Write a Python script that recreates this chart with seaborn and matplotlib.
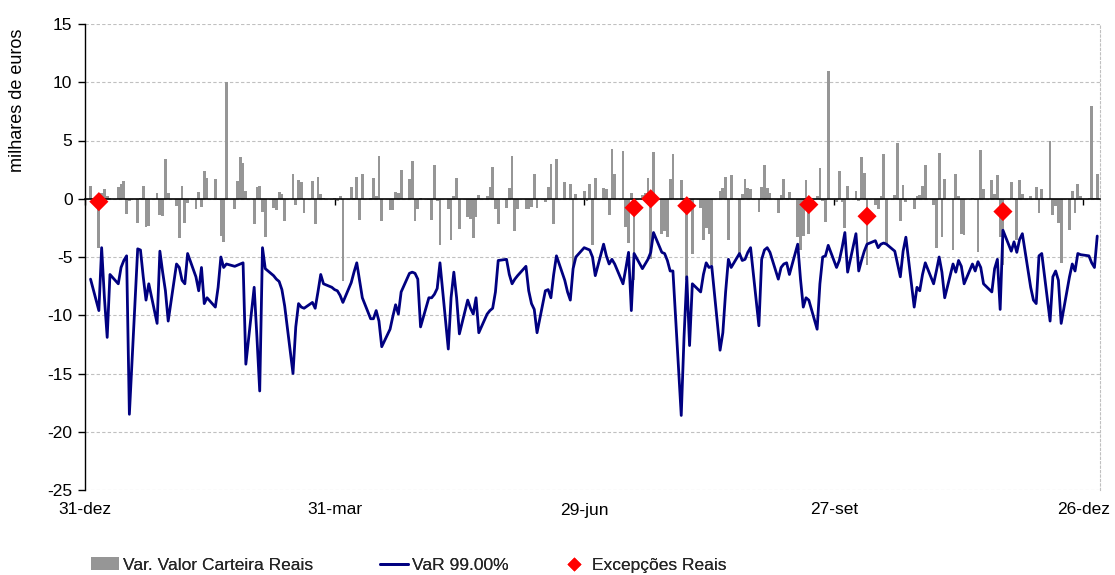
import numpy as np
import pandas as pd
import matplotlib
matplotlib.use("Agg")
import matplotlib.pyplot as plt
import matplotlib.dates as mdates
from matplotlib.patches import Patch
from matplotlib.lines import Line2D
import seaborn as sns

sns.set_theme(style="white")
plt.rcParams["font.family"] = ["Liberation Sans", "DejaVu Sans"]

# ---------------- data ----------------
dates = pd.bdate_range("2009-01-02", "2009-12-31")

pnl_q1a = [1.1, -4.2, 0.5, 0.8, 0.2, 0.1, 1.0, 1.3, 1.5, -1.3, -0.2, -2.1, 0.1, 1.1, -2.4, -2.3,
           0.5, -1.4, -1.5, 3.4, 0.5, -0.6, -3.4, 1.1, -2.1, -0.4, -0.9, 0.6, -0.7, 2.4, 1.8, 1.7,
           -0.1, -3.2, -3.7, 10.0]
pnl_q1b = [-0.9, 1.5, 3.6, 3.1, 0.7, -2.2, 1.0, 1.1, -1.1, -3.3, -0.8, -1.0, 0.6, 0.4, -1.9, 2.1,
           -0.5, 1.6, 1.4, -1.2, 1.5, -2.2, 1.9, 0.4, 0.05, -0.05, 0.1, -0.2, 0.2, -7.1, 1.0, 0.1,
           1.9, -1.8, 2.1, 0.1]
pnl_q2a = [1.8, 0.2, 3.7, -1.9, -1.0, -1.0, 0.6, 0.5, 2.5, 1.7, 3.2, -1.9, -0.9, 0.1, -0.1, -1.8,
           2.9, -0.2, -4.0, -0.9, -3.5, 0.2, 1.8, -2.6, -1.6, -1.7, -3.4, -1.6, 0.3, 0.2, 1.0, 2.7,
           -0.9, -2.2, -0.8, 0.9, 3.7, -2.8, -0.9]
pnl_q2b = [-0.9, -0.9, -0.7, 2.1, -0.8, -0.3, 1.0, 3.0, -2.2, 3.4, 1.4, 0.1, 1.3, -6.0, 0.4, 0.7,
           -0.2, 1.3, -4.0, 1.8, 0.9, 0.8, -1.4, 4.3, 2.1, 4.1, -2.4, -3.8, 0.5, -7.0, 0.3, 0.5,
           1.8, -5.2, 4.0, -3.0]
pnl_q3a = [-2.8, -3.3, 1.7, 3.8, 1.6, -0.6, -7.0, -0.7, -4.7, -0.8, -3.5, -2.5, -3.0, -5.7, 0.7,
           0.9, 1.9, -3.5, 2.0, -4.7, 0.4, 1.7, 0.9, 0.8, -1.1, 1.0, 2.9, 0.9, 0.5, -1.2, 0.3, 1.7,
           0.1, 0.6, -3.3, -4.4, -3.2, 1.6, -3.0]
pnl_q3b = [0.2, 2.6, -0.2, -2.0, 11.0, -0.3, 2.4, -0.3, -2.5, 1.1, 0.7, -0.2, 3.6, 2.2, -5.7, -0.5,
           -0.9, 0.2, 3.8, -3.9, 0.3, 4.8, -1.9, 1.2, -0.3, -0.9, 0.2, 0.3, 1.1, 2.9, -0.5, -4.2,
           3.9, -3.3, 1.7, -4.4]
pnl_q4 = [2.1, 0.2, -3.0, -3.1, 0.1, -0.1, -4.6, 4.2, 0.8, 1.6, 0.4, 2.0, -3.3, -5.7, 1.4, 0.1,
          -3.5, 1.6, 0.4, 0.2, 0.0, 1.0, -1.2, 0.8, 5.0, -1.4, -0.6, -2.1, -5.5, -2.7, 0.7, -1.2,
          1.3, 0.2, 0.1, 8.0, 0.1, 2.1]

var_q1a = [-6.9, -9.6, -4.2, -8.5, -11.9, -6.5, -7.3, -5.9, -5.3, -4.9, -18.5, -4.3, -4.4, -6.7,
           -8.7, -7.3, -10.7, -4.5, -6.3, -7.9, -10.5, -5.6, -5.9, -7.0, -7.3, -4.7, -6.7, -7.9,
           -5.9, -9.0, -8.5, -9.3, -7.6, -5.0, -5.9, -5.6]
var_q1b = [-5.8, -5.7, -5.6, -5.5, -14.2, -7.6, -11.9, -16.5, -4.2, -6.0, -6.6, -6.9, -7.1, -7.8,
           -9.2, -15.0, -11.0, -9.0, -9.3, -9.4, -8.9, -9.4, -8.0, -6.5, -7.3, -7.6, -7.8, -7.9,
           -8.3, -8.9, -7.2, -6.3, -5.5, -7.0, -8.5, -10.3]
var_q2a = [-10.3, -9.6, -10.5, -12.7, -11.2, -10.1, -9.1, -9.9, -8.0, -6.4, -6.3, -6.4, -6.9,
           -11.0, -8.5, -8.5, -8.2, -7.7, -5.5, -12.9, -8.5, -6.3, -8.5, -11.6, -8.7, -9.4, -9.9,
           -8.5, -11.5, -9.9, -9.6, -9.4, -8.0, -5.3, -5.2, -6.5, -7.3, -6.9, -6.6]
var_q2b = [-5.8, -7.9, -9.0, -9.5, -11.5, -7.9, -7.8, -8.5, -6.5, -4.9, -7.0, -8.0, -8.7, -6.0,
           -5.0, -4.2, -4.3, -4.4, -5.0, -6.6, -3.9, -4.9, -5.6, -5.2, -5.6, -7.3, -6.0, -4.6,
           -9.6, -4.7, -6.0, -5.6, -5.2, -4.6, -2.9, -4.6]
var_q3a = [-4.7, -5.3, -6.2, -6.2, -18.6, -11.9, -6.7, -12.6, -7.3, -8.0, -6.5, -5.5, -5.9, -5.8,
           -13.0, -11.5, -8.0, -5.2, -5.9, -4.7, -5.3, -5.2, -4.6, -4.2, -10.9, -5.2, -4.4, -4.2,
           -4.6, -6.9, -5.9, -5.6, -5.5, -6.5, -3.9, -6.9, -9.3, -8.5, -8.7]
var_q3b = [-11.2, -7.3, -5.0, -4.9, -4.0, -5.9, -5.3, -4.2, -2.9, -6.3, -3.0, -6.2, -5.3, -4.5,
           -3.9, -3.6, -4.2, -3.9, -3.8, -3.9, -4.5, -5.6, -6.7, -4.5, -3.3, -9.3, -7.6, -7.9,
           -6.5, -5.5, -7.3, -6.2, -5.0, -6.3, -8.5, -5.6]
var_q4 = [-6.3, -5.3, -5.8, -7.3, -5.6, -6.2, -5.4, -5.9, -7.3, -8.0, -6.0, -5.2, -9.5, -2.7,
          -4.5, -3.7, -4.6, -3.5, -3.0, -7.6, -8.7, -9.0, -4.9, -4.7, -10.5, -6.7, -6.2, -7.0,
          -10.7, -6.7, -5.6, -6.2, -4.7, -4.8, -4.9, -5.5, -5.9, -3.2]

exc_dates = ["2009-01-05", "2009-07-17", "2009-07-23", "2009-08-05", "2009-09-18",
             "2009-10-09", "2009-11-27"]
exc_values = [-0.25, -0.77, 0.0, -0.6, -0.5, -1.5, -1.1]

tick_dates = ["2008-12-31", "2009-03-31", "2009-06-29", "2009-09-27", "2009-12-26"]
tick_labels = ["31-dez", "31-mar", "29-jun", "27-set", "26-dez"]
y_ticks = [-25, -20, -15, -10, -5, 0, 5, 10, 15]

pnl = pnl_q1a + pnl_q1b + pnl_q2a + pnl_q2b + pnl_q3a + pnl_q3b + pnl_q4
var99 = var_q1a + var_q1b + var_q2a + var_q2b + var_q3a + var_q3b + var_q4

df = pd.DataFrame({"date": dates, "pnl": pnl, "var": var99})
exc = pd.DataFrame({"date": pd.to_datetime(exc_dates), "val": exc_values})

# ---------------- figure ----------------
W, H = 1115, 575
fig = plt.figure(figsize=(W / 100, H / 100), dpi=100)
ax = fig.add_axes([85 / W, 1 - 490 / H, 1015 / W, 466 / H])

GRAY = "#969696"
NAVY = "#000080"

ax.bar(df["date"], df["pnl"], width=1.0, color=GRAY, linewidth=0, zorder=2)
sns.lineplot(data=df, x="date", y="var", ax=ax, color=NAVY, linewidth=2.0, zorder=3,
             legend=False)
sns.scatterplot(data=exc, x="date", y="val", ax=ax, marker="D", s=95, color="#ff0000",
                edgecolor="none", zorder=4, legend=False)

ax.set_xlim(pd.Timestamp("2008-12-31"), pd.Timestamp("2010-01-01"))
ax.set_ylim(-25, 15)
ax.set_yticks(y_ticks)
ax.set_yticklabels([str(v) for v in y_ticks])
ax.set_xlabel("")
ax.set_ylabel("")

ax.grid(axis="y", linestyle=(0, (3, 2)), color="#c0c0c0", linewidth=0.8, zorder=0)
ax.grid(axis="x", visible=False)

ax.spines["top"].set_visible(False)
ax.spines["right"].set_linestyle((0, (2, 2)))
ax.spines["right"].set_color("#c0c0c0")
ax.spines["right"].set_linewidth(0.8)
ax.spines["left"].set_color("black")
ax.spines["left"].set_linewidth(1.0)
ax.spines["bottom"].set_position(("data", 0))
ax.spines["bottom"].set_color("black")
ax.spines["bottom"].set_linewidth(1.2)
ax.spines["bottom"].set_zorder(3.5)

tick_nums = mdates.date2num(pd.to_datetime(tick_dates))
ax.set_xticks(tick_nums)
ax.tick_params(axis="x", direction="out", length=4, width=1, color="black",
               labelbottom=False, bottom=True)
ax.tick_params(axis="y", direction="out", length=5, width=1, color="black",
               left=True, labelsize=12.5, pad=4, labelcolor="black")

sec = ax.secondary_xaxis(0)
sec.set_xticks(tick_nums)
sec.set_xticklabels(tick_labels)
sec.tick_params(length=0, pad=9, labelsize=12.5, labelcolor="black")
sec.spines["bottom"].set_visible(False)

fig.text(18 / W, 1 - 100 / H, "milhares de euros", rotation=90, ha="center", va="center",
         fontsize=13, color="black")

# legend entries placed individually
entries = [
    (Patch(facecolor=GRAY, edgecolor="none"), "Var. Valor Carteira Reais", 84),
    (Line2D([0], [0], color=NAVY, lw=2.0), "VaR 99.00%", 373),
    (Line2D([0], [0], marker="D", color="none", markerfacecolor="#ff0000",
            markeredgecolor="none", markersize=7), "Excepções Reais", 553),
]
for h, lab, x0 in entries:
    leg = fig.legend([h], [lab], loc="center left", bbox_to_anchor=(x0 / W, 1 - 565 / H),
                     frameon=False, fontsize=12.5, handlelength=1.6, handletextpad=0.25,
                     borderaxespad=0, borderpad=0.4)
    fig.add_artist(leg)

fig.savefig("out.png", dpi=100)
